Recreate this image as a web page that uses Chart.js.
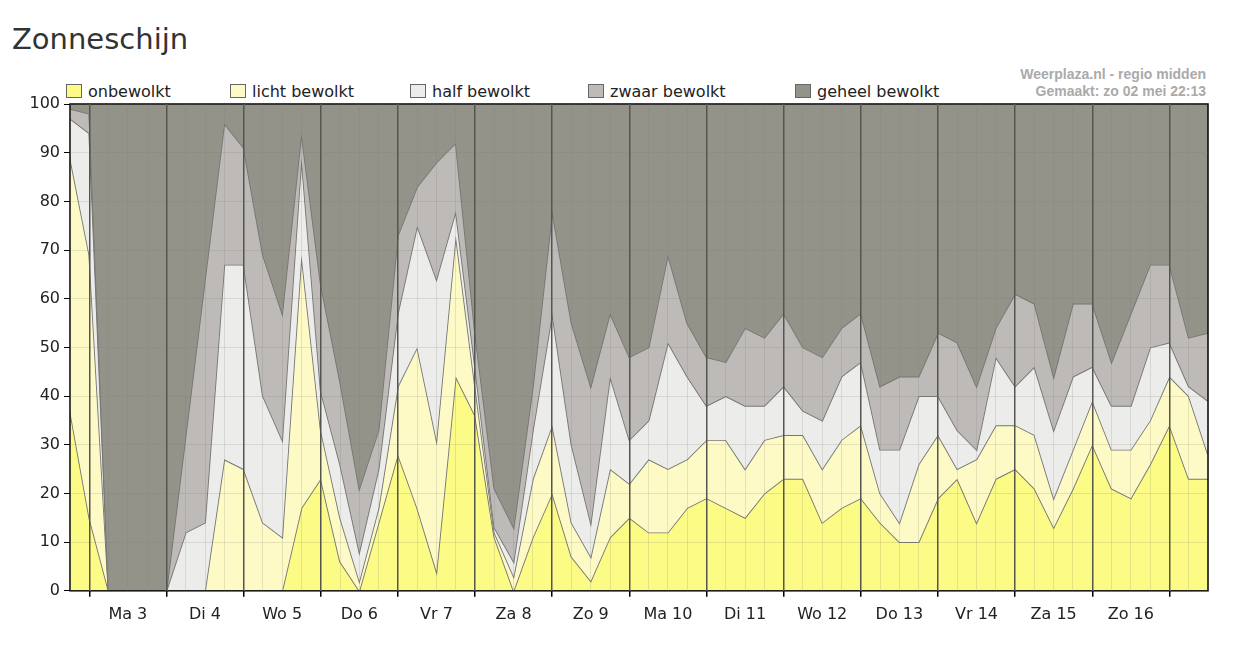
<!DOCTYPE html>
<html>
<head>
<meta charset="utf-8">
<script src="https://cdn.jsdelivr.net/npm/chart.js@4"></script>
<style>
  body { margin: 0; background: #fff; font-family: "DejaVu Sans", Verdana, sans-serif; }
  #wrap { position: relative; width: 1237px; height: 657px; }
  #title { position: absolute; left: 12px; top: 22px; font-size: 29px; color: #333; }
  #credit { position: absolute; right: 31px; top: 66px; font-size: 14px; font-weight: bold; color: #aaa; text-align: right; line-height: 17px; font-family: Arial, "Liberation Sans", sans-serif; }
  #legend { position: absolute; left: 66px; top: 82px; font-size: 16px; color: #222; }
  #legend span { position: absolute; white-space: nowrap; top: 0; }
  #legend i { display: inline-block; width: 14px; height: 12px; border: 1px solid #666; margin-right: 6px; vertical-align: -1px; }
  canvas { position: absolute; left: 0; top: 0; }
</style>
</head>
<body>
<div id="wrap">
  <div id="title">Zonneschijn</div>
  <div id="credit">Weerplaza.nl - regio midden<br>Gemaakt: zo 02 mei 22:13</div>
  <div id="legend"></div>
  <canvas id="c" width="1237" height="657"></canvas>
</div>
<script>
const days = ['Ma 3', 'Di 4', 'Wo 5', 'Do 6', 'Vr 7', 'Za 8', 'Zo 9', 'Ma 10', 'Di 11', 'Wo 12', 'Do 13', 'Vr 14', 'Za 15', 'Zo 16'];
const names = ['onbewolkt', 'licht bewolkt', 'half bewolkt', 'zwaar bewolkt', 'geheel bewolkt'];
const colors = ['#fbfb86', '#fdfac6', '#ececeb', '#bdbab7', '#94938a'];

// cumulative upper edge of each band, one value per 6 hours
const onbewolktTop = [37, 15, 0, 0, 0, 0, 0, 0, 0, 0, 0, 0, 17, 23, 6, 0, 14, 28, 17, 4, 44, 36, 11, 0, 11, 20, 7, 2, 11, 15,
  12, 12, 17, 19, 17, 15, 20, 23, 23, 14, 17, 19, 14, 10, 10, 19, 23, 14, 23, 25, 21, 13, 21, 30, 21, 19, 26, 34, 23, 23];
const lichtTop = [89, 69, 0, 0, 0, 0, 0, 0, 27, 25, 14, 11, 69, 33, 15, 2, 17, 42, 50, 31, 73, 42, 12, 3, 23, 34, 14, 7, 25, 22,
  27, 25, 27, 31, 31, 25, 31, 32, 32, 25, 31, 34, 20, 14, 26, 32, 25, 27, 34, 34, 32, 19, 29, 39, 29, 29, 35, 44, 40, 28];
const halfTop = [97, 94, 0, 0, 0, 0, 12, 14, 67, 67, 40, 31, 89, 41, 26, 8, 25, 57, 75, 64, 78, 46, 13, 6, 33, 57, 30, 14, 44, 31,
  35, 51, 44, 38, 40, 38, 38, 42, 37, 35, 44, 47, 29, 29, 40, 40, 33, 29, 48, 42, 46, 33, 44, 46, 38, 38, 50, 51, 42, 39];
const zwaarTop = [99, 98, 0, 0, 0, 0, 32, 64, 96, 91, 69, 57, 94, 63, 43, 21, 33, 73, 83, 88, 92, 53, 21, 13, 42, 78, 55, 42, 57, 48,
  50, 69, 55, 48, 47, 54, 52, 57, 50, 48, 54, 57, 42, 44, 44, 53, 51, 42, 54, 61, 59, 44, 59, 59, 47, 57, 67, 67, 52, 53];
const geheelTop = onbewolktTop.map(() => 100);
const yTicks = [0, 10, 20, 30, 40, 50, 60, 70, 80, 90, 100];

const series = [onbewolktTop, lichtTop, halfTop, zwaarTop, geheelTop];
const isDay = v => (v - 1) % 4 === 0;

const lg = document.getElementById('legend');
const legendX = [0, 164, 344, 522, 729];
names.forEach((n, i) => {
  const s = document.createElement('span');
  s.style.left = legendX[i] + 'px';
  s.innerHTML = '<i style="background:' + colors[i] + '"></i>' + n;
  lg.appendChild(s);
});

const frame = {
  id: 'frame',
  afterDatasetsDraw(chart) {
    const a = chart.chartArea, c = chart.ctx;
    c.save();
    c.strokeStyle = '#000';
    c.lineWidth = 1.5;
    c.strokeRect(a.left, a.top, a.right - a.left, a.bottom - a.top);
    c.restore();
  }
};

Chart.defaults.font.family = '"DejaVu Sans", Verdana, sans-serif';

new Chart(document.getElementById('c'), {
  type: 'line',
  data: {
    datasets: series.map((d, i) => ({
      label: names[i],
      data: d.map((v, k) => ({ x: k, y: v })),
      backgroundColor: colors[i],
      borderColor: i === 4 ? 'rgba(0,0,0,0)' : '#767674',
      borderWidth: 1.8,
      pointRadius: 0,
      tension: 0,
      fill: i === 0 ? 'origin' : '-1',
      order: 5 - i
    }))
  },
  options: {
    responsive: false,
    animation: false,
    layout: { padding: { top: 104, right: 29, bottom: 25, left: 0 } },
    plugins: { legend: { display: false }, tooltip: { enabled: false } },
    scales: {
      x: {
        type: 'linear', min: 0, max: 59,
        afterBuildTicks: s => { s.ticks = onbewolktTop.map((_, k) => ({ value: k })); },
        ticks: {
          autoSkip: false, maxRotation: 0, color: '#222', font: { size: 16 }, padding: 8,
          callback: v => ((v - 3) % 4 === 0 ? days[(v - 3) / 4] : '')
        },
        grid: {
          z: 1,
          color: c => (isDay(c.tick.value) ? '#55554f' : 'rgba(120,120,110,0.18)'),
          lineWidth: c => (isDay(c.tick.value) ? 1.5 : 1),
          tickColor: c => (isDay(c.tick.value) ? '#000' : 'rgba(0,0,0,0)'),
          tickLength: 6
        },
        border: { display: false }
      },
      y: {
        min: 0, max: 100,
        afterBuildTicks: s => { s.ticks = yTicks.map(v => ({ value: v })); },
        ticks: { color: '#222', font: { size: 16 }, padding: 4 },
        grid: { z: 1, color: 'rgba(120,120,110,0.18)', tickColor: '#000', tickLength: 6 },
        border: { display: false },
        afterFit: s => { s.width = 70; }
      }
    }
  },
  plugins: [frame]
});
</script>
</body>
</html>
